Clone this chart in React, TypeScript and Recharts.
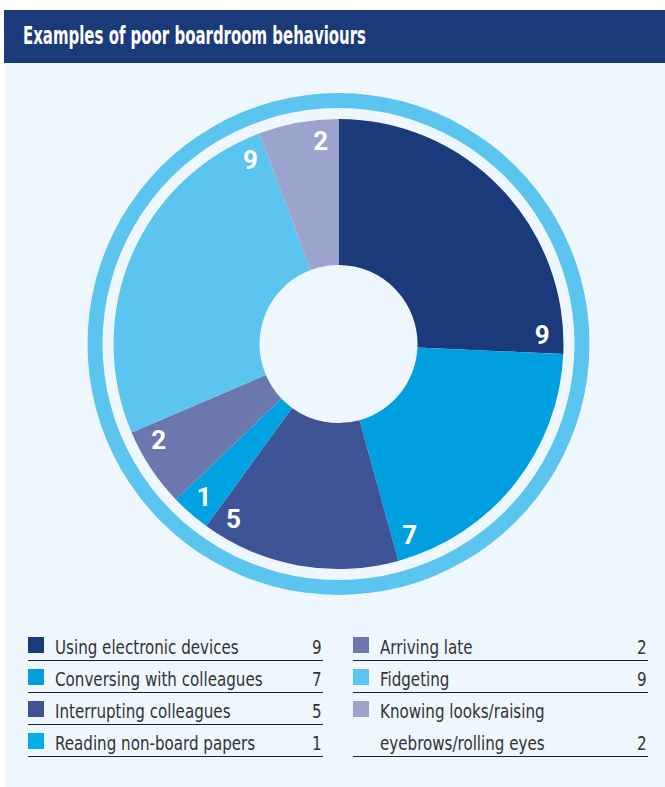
import * as React from "react";
import { PieChart, Pie, Cell } from "recharts";

const behaviours = [
  "Using electronic devices",
  "Conversing with colleagues",
  "Interrupting colleagues",
  "Reading non-board papers",
  "Arriving late",
  "Fidgeting",
  "Knowing looks/raising eyebrows/rolling eyes",
];
const counts = [9, 7, 5, 1, 2, 9, 2];
const sliceColors = ["#1b3a7a", "#009fdf", "#3f5497", "#00a3e2", "#6c77ae", "#5bc5f0", "#9ca3cc"];
const legendSwatch = ["#1b3a7a", "#009fdf", "#3f5497", "#00b1eb", "#6c77ae", "#5bc5f0", "#9ca3cc"];
const leftColumn = [0, 1, 2, 3];
const rightColumn = [4, 5, 6];
const ring = [{ name: "ring", value: 1 }];

const RAD = Math.PI / 180;
// recharts offsets cx/cy by the default 5px margin
const CX = 333.5;
const CY = 339;

const data = behaviours.map((name, i) => ({ name, value: counts[i] }));

const condensed = '"DejaVu Sans Condensed", "DejaVu Sans", sans-serif';

function Squeeze({ f, children }: { f: number; children: React.ReactNode }) {
  return (
    <span style={{ display: "inline-block", whiteSpace: "nowrap", transform: `scaleX(${f})`, transformOrigin: "left center" }}>
      {children}
    </span>
  );
}

function renderLabel(props: any) {
  const { cx, cy, endAngle, value } = props;
  // labels sit just inside the clockwise end of each slice
  const a = (endAngle + 5) * RAD;
  const r = 204;
  const x = cx + r * Math.cos(-a);
  const y = cy + r * Math.sin(-a);
  return (
    <text
      x={x}
      y={y}
      fill="#ffffff"
      textAnchor="middle"
      dominantBaseline="central"
      fontFamily="Roboto, sans-serif"
      fontWeight={700}
      fontSize={26}
    >
      {value}
    </text>
  );
}

function LegendRow({ i, twoLines }: { i: number; twoLines?: boolean }) {
  const label = behaviours[i];
  const lines = twoLines ? ["Knowing looks/raising", "eyebrows/rolling eyes"] : [label];
  return (
    <div style={{ borderBottom: "1px solid #222" }}>
      {lines.map((ln, k) => (
        <div key={k} style={{ height: k === 0 ? 31 : 32, display: "flex", alignItems: "flex-end" }}>
          <div style={{ width: 16, height: 16, flex: "none", background: k === 0 ? legendSwatch[i] : "transparent", marginRight: 11, marginBottom: 7 }} />
          <div style={{ flex: 1, fontSize: 20, lineHeight: "26px", color: "#333" }}>
            <Squeeze f={0.84}>{ln}</Squeeze>
          </div>
          {k === lines.length - 1 && (
            <div style={{ fontSize: 20, lineHeight: "26px", color: "#333" }}>
              <Squeeze f={0.84}>{counts[i]}</Squeeze>
            </div>
          )}
        </div>
      ))}
    </div>
  );
}

export default function App() {
  return (
    <div style={{ position: "absolute", left: 0, top: 0, width: 665, height: 787, background: "#ffffff", fontFamily: condensed }}>
      <div style={{ position: "absolute", left: 5, top: 62, width: 660, height: 725, background: "#eef7fd" }} />
      <div
        style={{
          position: "absolute",
          left: 4,
          top: 10,
          width: 661,
          height: 53,
          background: "#1b3a7a",
          color: "#fff",
          fontWeight: 700,
          fontSize: 25,
          lineHeight: "52px",
          paddingLeft: 19,
          boxSizing: "border-box",
        }}
      >
        <Squeeze f={0.665}>Examples of poor boardroom behaviours</Squeeze>
      </div>
      <div style={{ position: "absolute", left: 0, top: 0 }}>
        <PieChart width={665} height={610}>
          <Pie
            data={ring}
            dataKey="value"
            cx={CX}
            cy={CY}
            innerRadius={236}
            outerRadius={251}
            startAngle={90}
            endAngle={-270}
            fill="#5bc5f0"
            stroke="none"
            isAnimationActive={false}
          />
          <Pie
            data={data}
            dataKey="value"
            cx={CX}
            cy={CY}
            innerRadius={79}
            outerRadius={225}
            startAngle={90}
            endAngle={-270}
            stroke="none"
            label={renderLabel}
            labelLine={false}
            isAnimationActive={false}
          >
            {data.map((d, i) => (
              <Cell key={d.name} fill={sliceColors[i]} />
            ))}
          </Pie>
        </PieChart>
      </div>
      <div style={{ position: "absolute", left: 28, top: 629, width: 295 }}>
        {leftColumn.map((i) => (
          <LegendRow key={i} i={i} />
        ))}
      </div>
      <div style={{ position: "absolute", left: 353, top: 629, width: 295 }}>
        {rightColumn.map((i) => (
          <LegendRow key={i} i={i} twoLines={i === 6} />
        ))}
      </div>
    </div>
  );
}
